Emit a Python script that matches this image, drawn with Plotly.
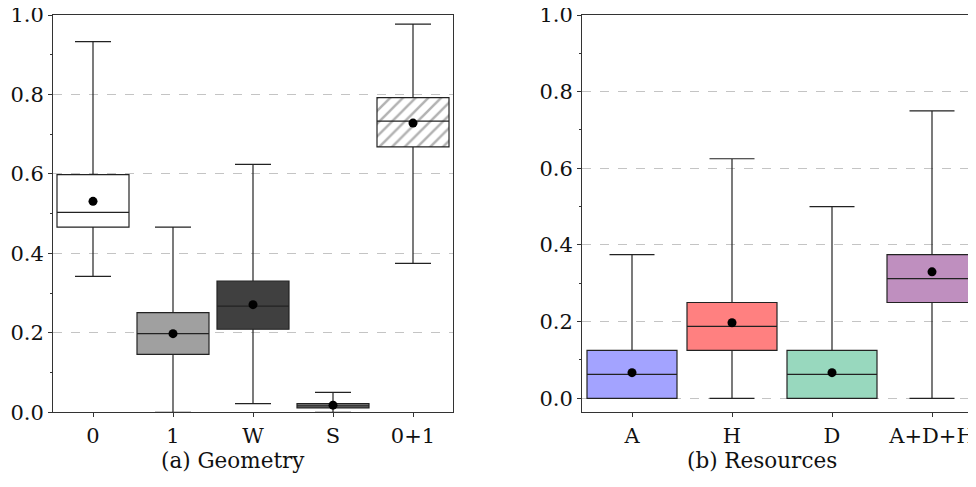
import plotly.graph_objects as go

# ---- data: Geometry ----
geo_cats = ["0", "1", "W", "S", "0+1"]
geo_lower = [0.342, 0.0, 0.022, 0.0, 0.375]
geo_q1 = [0.466, 0.146, 0.209, 0.011, 0.668]
geo_median = [0.503, 0.198, 0.267, 0.016, 0.733]
geo_q3 = [0.598, 0.251, 0.330, 0.022, 0.792]
geo_upper = [0.933, 0.466, 0.624, 0.050, 0.977]
geo_mean = [0.531, 0.198, 0.271, 0.018, 0.728]
geo_colors = ["#ffffff", "#a0a0a0", "#404040", "#808080", "rgba(0,0,0,0)"]
geo_hatched = ["0+1"]

# ---- data: Resources ----
res_cats = ["A", "H", "D", "A+D+H"]
res_lower = [0.0, 0.0, 0.0, 0.0]
res_q1 = [0.0, 0.125, 0.0, 0.25]
res_median = [0.0625, 0.1875, 0.0625, 0.3125]
res_q3 = [0.125, 0.25, 0.125, 0.375]
res_upper = [0.375, 0.625, 0.5, 0.75]
res_mean = [0.067, 0.197, 0.067, 0.33]
res_colors = ["#a3a3ff", "#ff8080", "#98d8be", "#bf8fbf"]

yticks = [0.0, 0.2, 0.4, 0.6, 0.8, 1.0]
ytick_text = ["0.0", "0.2", "0.4", "0.6", "0.8", "1.0"]

FONT = "DejaVu Serif"
W, H = 976, 487
OFF = 8  # page body margin offset
BOX_W = 0.9
LINE = "#222222"
FS = 21


def px(x):
    return (x - OFF) / W


def py(y):
    return (H - (y - OFF)) / H


fig = go.Figure()

# hatched background bars (drawn first so boxes overlay their outlines)
for c, q1, q3 in zip(geo_cats, geo_q1, geo_q3):
    if c in geo_hatched:
        fig.add_trace(go.Bar(
            x=[c], y=[q3 - q1], base=[q1], width=BOX_W,
            marker=dict(color="#ffffff",
                        pattern=dict(shape="/", fgcolor="#666666", bgcolor="#ffffff",
                                     size=9, solidity=0.28),
                        line=dict(width=0)),
            xaxis="x", yaxis="y", showlegend=False, hoverinfo="skip"))

for i, c in enumerate(geo_cats):
    fig.add_trace(go.Box(
        x=[c], q1=[geo_q1[i]], median=[geo_median[i]], q3=[geo_q3[i]],
        lowerfence=[geo_lower[i]], upperfence=[geo_upper[i]],
        width=BOX_W, whiskerwidth=0.5, fillcolor=geo_colors[i],
        line=dict(color=LINE, width=1.2), boxpoints=False,
        xaxis="x", yaxis="y", showlegend=False))
fig.add_trace(go.Scatter(x=geo_cats, y=geo_mean, mode="markers",
                         marker=dict(color="black", size=9),
                         xaxis="x", yaxis="y", showlegend=False))

for i, c in enumerate(res_cats):
    fig.add_trace(go.Box(
        x=[c], q1=[res_q1[i]], median=[res_median[i]], q3=[res_q3[i]],
        lowerfence=[res_lower[i]], upperfence=[res_upper[i]],
        width=BOX_W, whiskerwidth=0.5, fillcolor=res_colors[i],
        line=dict(color=LINE, width=1.2), boxpoints=False,
        xaxis="x2", yaxis="y2", showlegend=False))
fig.add_trace(go.Scatter(x=res_cats, y=res_mean, mode="markers",
                         marker=dict(color="black", size=9),
                         xaxis="x2", yaxis="y2", showlegend=False))

ydom = [py(412.3), py(15)]
tickfont = dict(family=FONT, size=FS, color="#111111")

common_y = dict(
    tickvals=yticks, ticktext=ytick_text, ticks="outside", ticklen=4,
    tickcolor="#333333", tickfont=tickfont, showline=True, linecolor="#333333",
    linewidth=1, showgrid=True, gridcolor="#c4c4c4", griddash="dash", gridwidth=1,
    zeroline=False, domain=ydom, automargin=False, ticklabeloverflow="allow",
    minor=dict(ticks="outside", ticklen=2, tickcolor="#333333", dtick=0.1,
               tick0=0, showgrid=False),
)
common_x = dict(
    type="category", ticks="outside", ticklen=4, tickcolor="#333333",
    tickfont=tickfont, showline=True, linecolor="#333333", linewidth=1,
    showgrid=False, zeroline=False, automargin=False, ticklabeloverflow="allow",
)

fig.update_layout(
    width=W, height=H, margin=dict(l=0, r=0, t=0, b=0, autoexpand=False),
    paper_bgcolor="white", plot_bgcolor="white",
    boxmode="overlay", barmode="overlay",
    xaxis=dict(common_x, domain=[px(53), px(453)], range=[-0.5, 4.5],
               categoryorder="array", categoryarray=geo_cats, mirror=True,
               anchor="y"),
    yaxis=dict(common_y, range=[0, 1.0], mirror=True, anchor="x"),
    xaxis2=dict(common_x, domain=[px(582), 1.0], range=[-0.5, 3.52],
                categoryorder="array", categoryarray=res_cats, mirror=True,
                anchor="y2"),
    yaxis2=dict(common_y, range=[-0.0365, 1.0], anchor="x2"),
    annotations=[
        dict(text="(a) Geometry", x=px(233), y=py(460), xref="paper",
             yref="paper", showarrow=False, xanchor="center", yanchor="middle",
             font=dict(family=FONT, size=21.5, color="#111111")),
        dict(text="(b) Resources", x=px(762), y=py(460), xref="paper",
             yref="paper", showarrow=False, xanchor="center", yanchor="middle",
             font=dict(family=FONT, size=21.5, color="#111111")),
    ],
)

fig.write_html("out.html")
